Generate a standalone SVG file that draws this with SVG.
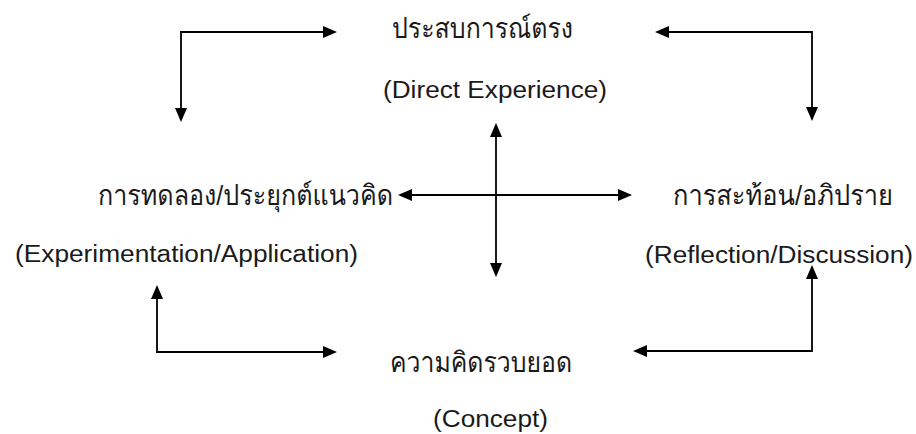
<svg xmlns="http://www.w3.org/2000/svg" width="916" height="434" viewBox="0 0 916 434">
<defs>
<marker id="ah" markerUnits="userSpaceOnUse" viewBox="0 0 14 12" markerWidth="14" markerHeight="12" refX="0" refY="6" orient="auto-start-reverse">
<path d="M0,0 L14,6 L0,12 z" fill="#000"/>
</marker>
<style>
.t{font-family:"Liberation Sans","Loma","Garuda","Noto Sans Thai Looped","Noto Sans Thai","Noto Sans",sans-serif;font-size:23.5px;fill:#1a1a1a}
.th{font-size:28px}
.c{fill:none;stroke:#000;stroke-width:1.8;marker-start:url(#ah);marker-end:url(#ah)}
</style>
</defs>
<rect width="916" height="434" fill="#fff"/>
<g id="direct">
<text class="t th" x="392" y="38" textLength="181" lengthAdjust="spacingAndGlyphs">ประสบการณ์ตรง</text>
<text class="t" x="383" y="98" textLength="224" lengthAdjust="spacingAndGlyphs">(Direct Experience)</text>
</g>
<g id="experiment">
<text class="t th" x="98" y="205" textLength="295" lengthAdjust="spacingAndGlyphs">การทดลอง/ประยุกต์แนวคิด</text>
<text class="t" x="15" y="262" textLength="343" lengthAdjust="spacingAndGlyphs">(Experimentation/Application)</text>
</g>
<g id="reflection">
<text class="t th" x="673" y="205" textLength="220" lengthAdjust="spacingAndGlyphs">การสะท้อน/อภิปราย</text>
<text class="t" x="645" y="263" textLength="268" lengthAdjust="spacingAndGlyphs">(Reflection/Discussion)</text>
</g>
<g id="concept">
<text class="t th" x="390" y="372" textLength="182" lengthAdjust="spacingAndGlyphs">ความคิดรวบยอด</text>
<text class="t" x="433" y="427" textLength="115" lengthAdjust="spacingAndGlyphs">(Concept)</text>
</g>
<g id="connectors">
<path class="c" d="M181,108 V32 H323"/>
<path class="c" d="M669,32 H812 V107"/>
<path class="c" d="M496,137 V263"/>
<path class="c" d="M412,195 H618"/>
<path class="c" d="M157,299 V352 H323"/>
<path class="c" d="M647,351 H812 V279"/>
</g>
</svg>
